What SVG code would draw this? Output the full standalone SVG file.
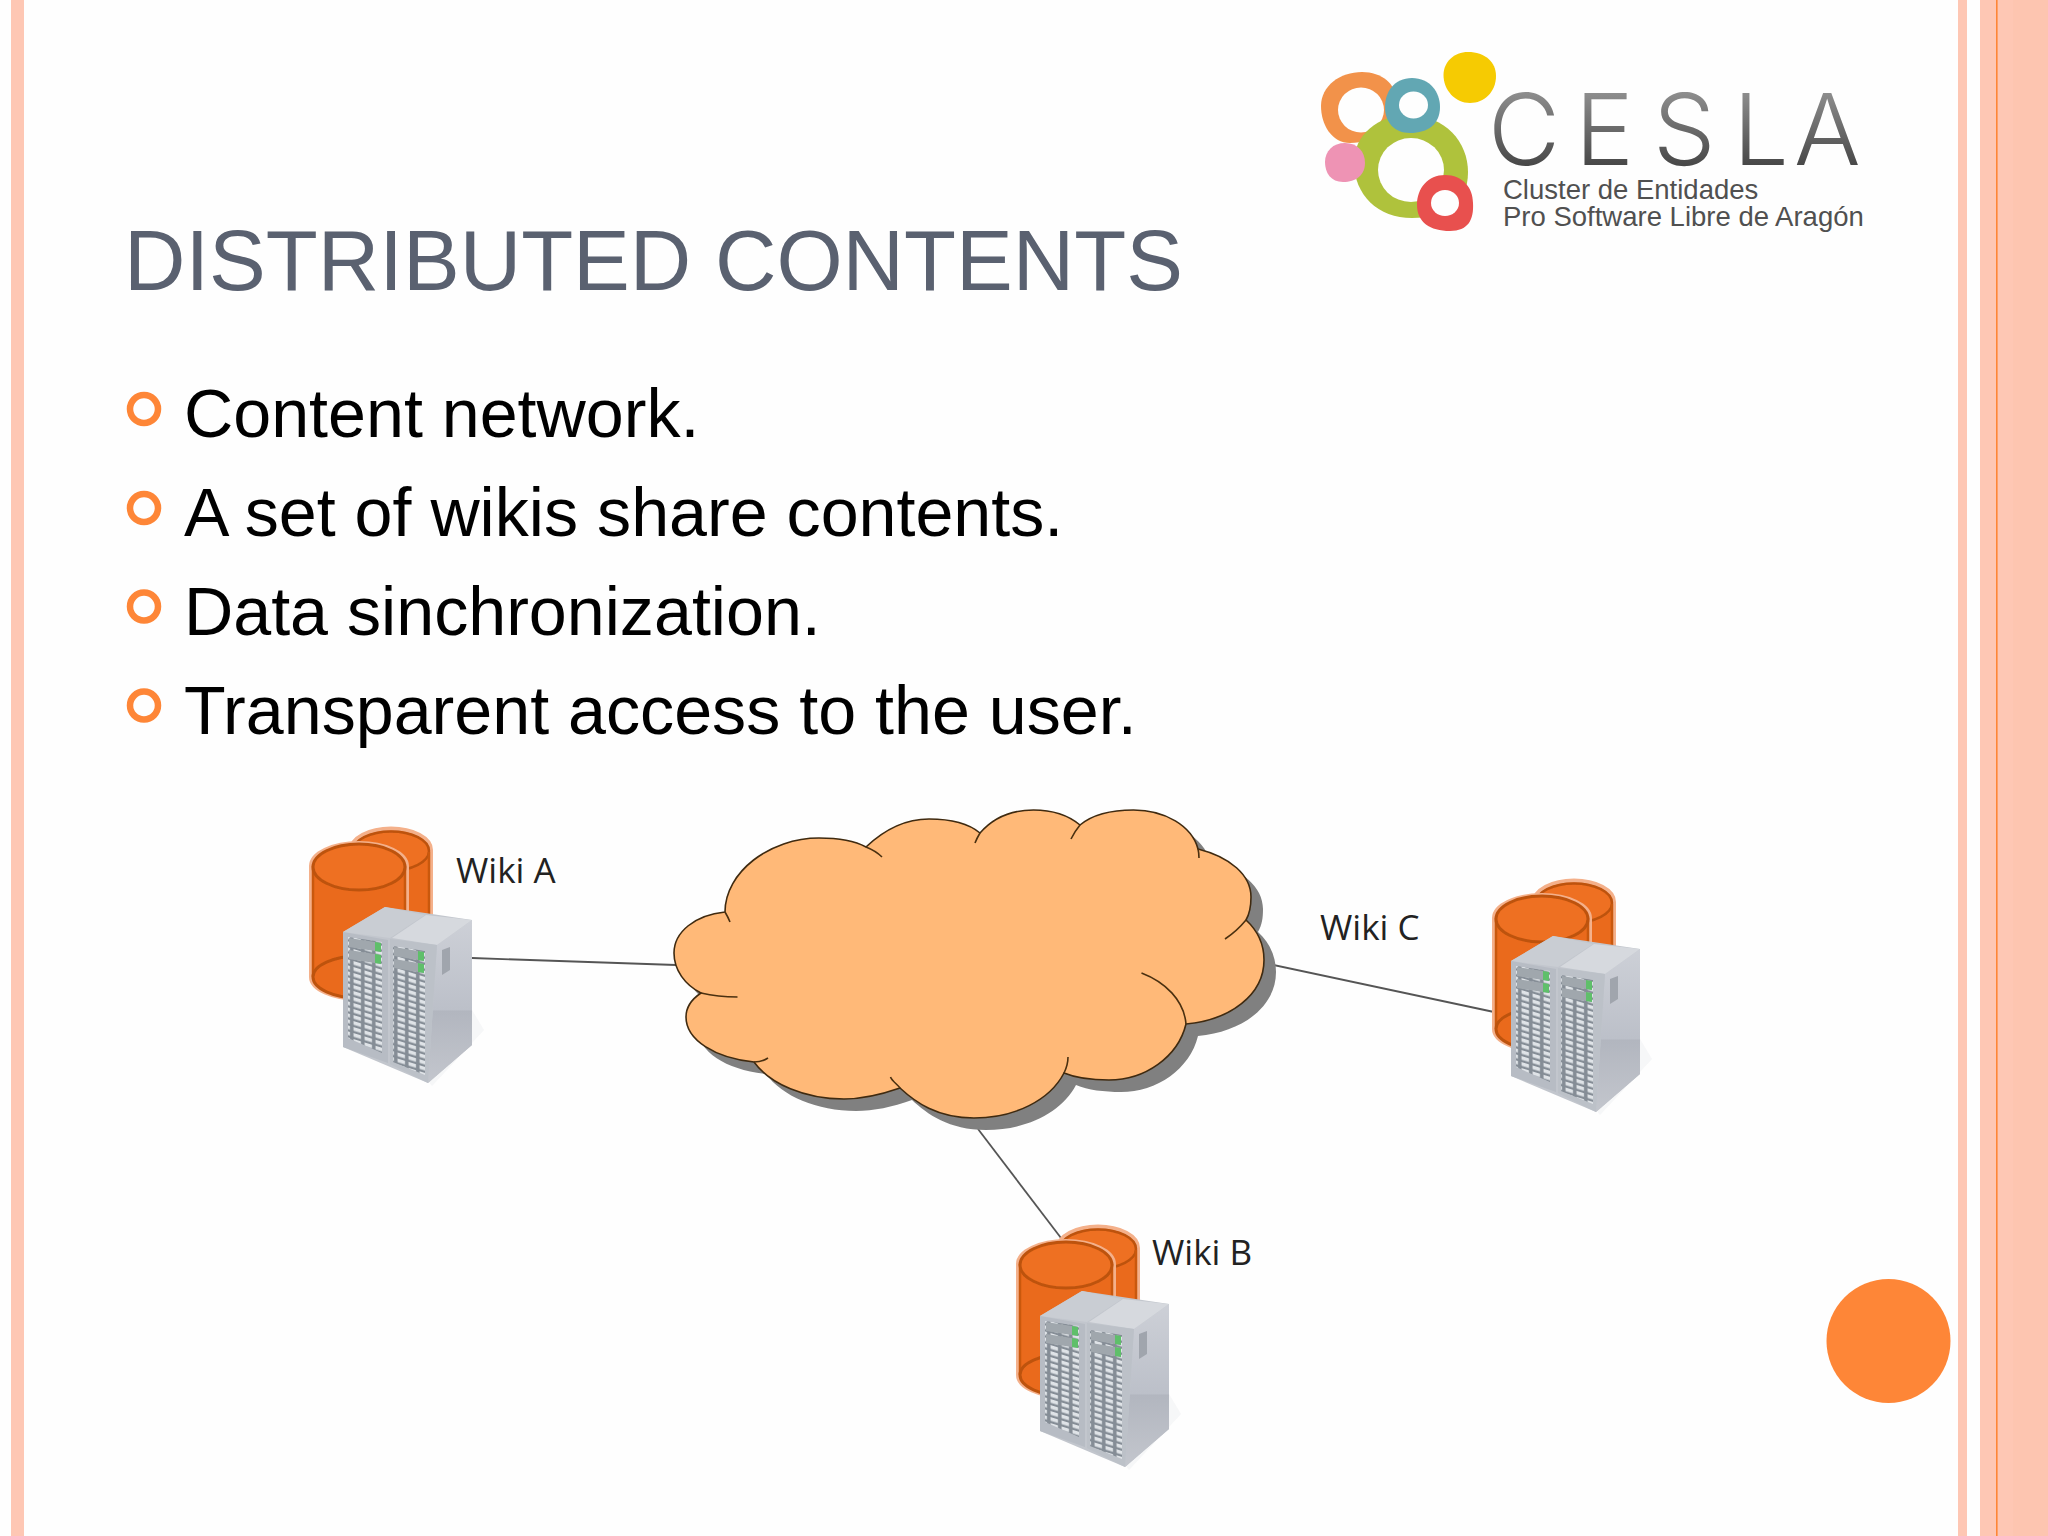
<svg xmlns="http://www.w3.org/2000/svg" width="2048" height="1536" viewBox="0 0 2048 1536">
<style>
.band{fill:#fec7b4}
.title{font:85.1px "Liberation Sans",Arial,sans-serif;fill:#5a6170}
.body{font:68.2px "Liberation Sans",Arial,sans-serif;fill:#000}
.bullet{fill:none;stroke:#fe8637;stroke-width:6.5}
.wiki{font:35px "Open Sans",sans-serif;fill:#222}
.conn{fill:none;stroke:#555;stroke-width:1.8}
.tail{fill:none;stroke:#4a3010;stroke-width:1.6}
.small{font:27.5px "Liberation Sans",Arial,sans-serif;fill:#505050}
</style>
<defs>
<linearGradient id="logoGrad" gradientUnits="userSpaceOnUse" x1="0" y1="92" x2="0" y2="166"><stop offset="0" stop-color="#8e8e8e"/><stop offset="1" stop-color="#474747"/></linearGradient>
<linearGradient id="sideGrad" x1="0" y1="0" x2="0" y2="1"><stop offset="0" stop-color="#cdd0d7"/><stop offset=".55" stop-color="#bcc0c9"/><stop offset=".56" stop-color="#b2b6bf"/><stop offset="1" stop-color="#c3c6cd"/></linearGradient>
<filter id="soft" x="-5%" y="-5%" width="110%" height="110%"><feGaussianBlur stdDeviation="0.6"/></filter>
<pattern id="drives" width="11" height="6" patternUnits="userSpaceOnUse" patternTransform="skewY(17)"><rect width="11" height="6" fill="#858d96"/><rect x="1.5" y="1" width="7.5" height="3.6" fill="#dfe3e7"/></pattern>
<g id="cyl" filter="url(#soft)">
<path d="M351,850 A40,21.5 0 0 1 431,850 V960 H351Z" fill="#ea6a1c" stroke="#f4b08a" stroke-width="4"/>
<ellipse cx="391" cy="851" rx="38" ry="19.5" fill="#ee6f20" stroke="#bd530f" stroke-width="2.5"/>
<path d="M429,852 V960" fill="none" stroke="#c9590f" stroke-width="2.5"/>
<path d="M311,866 A48,23 0 0 1 407,866 V977 A48,22 0 0 1 311,977Z" fill="#ea6a1c" stroke="#f4b08a" stroke-width="4"/>
<path d="M313,977 V866 M405,866 V977" fill="none" stroke="#c9590f" stroke-width="2.5"/>
<ellipse cx="359" cy="867" rx="46" ry="23" fill="#ee6f20" stroke="#bd530f" stroke-width="3"/>
<path d="M313,977 A46,21 0 0 1 405,977 A46,21 0 0 1 313,977Z" fill="#ea6a1c" stroke="#bd530f" stroke-width="3"/>
</g>
<g id="srv" filter="url(#soft)">
<polygon points="472,1010 484,1030 432,1086 426,1078" fill="#eceef0" opacity=".45"/>
<polygon points="343,932 385,907 472,920 472,1045 428,1083 343,1047" fill="#c2c6cd"/>
<polygon points="437,945 472,920 472,1045 428,1083" fill="url(#sideGrad)"/>
<polygon points="343,932 385,907 425,915 390,938" fill="#c9cdd3"/>
<polygon points="392,938 426,915 472,920 437,945" fill="#d6d9de"/>
<polygon points="343,932 388,940 388,1063 343,1047" fill="#b7bcc4"/>
<polygon points="390,939 437,945 428,1083 390,1064" fill="#bcc1c8"/>
<polygon points="442,950 450,947 450,970 442,975" fill="#a0a5ad"/>
<polygon points="348,937 382,942 382,1053 348,1038" fill="url(#drives)"/>
<polygon points="393,946 425,951 425,1075 393,1062" fill="url(#drives)"/>
<polygon points="349,938 381,943 381,952 349,947" fill="#a0a7ad"/>
<polygon points="349,950 381,955 381,964 349,959" fill="#a0a7ad"/>
<polygon points="375,942 381,943 381,952 375,951" fill="#5fbf6b"/>
<polygon points="375,954 381,955 381,964 375,963" fill="#5fbf6b"/>
<polygon points="394,947 424,952 424,961 394,956" fill="#a0a7ad"/>
<polygon points="394,959 424,964 424,973 394,968" fill="#a0a7ad"/>
<polygon points="418,951 424,952 424,961 418,960" fill="#5fbf6b"/>
<polygon points="418,963 424,964 424,973 418,972" fill="#5fbf6b"/>
</g>
<path id="cloudShape" d="M725,912 C725,872 770,838 819,838 C840,838 855,841 866,847 C885,829 905,819 929,819 C950,819 968,823 980,833 C993,818 1012,810 1033.5,810 C1052,810 1068,815 1080,825 C1092,815 1112,810 1133.5,810 C1165,810 1192,826 1198,849 C1230,857 1251,875 1251,897 C1251,906 1250,913 1246,920 C1258,931 1264,945 1264,960 C1264,995 1230,1020 1186,1024 C1178,1057 1145,1080 1109,1080 C1092,1080 1076,1078 1064,1073 C1050,1100 1015,1118 974,1118 C937,1118 915,1102 900,1088 C880,1095 862,1099 844,1099 C805,1099 770,1084 754,1062 C715,1058 686,1040 686,1017 C686,1007 692,999 701,993 C685,985 674,970 674,953 C674,932 695,915 725,912Z"/>
</defs>
<rect width="2048" height="1536" fill="#fefefe"/>
<rect class="band" x="11" y="0" width="13" height="1536"/>
<rect class="band" x="1958" y="0" width="9" height="1536"/>
<rect class="band" x="1980" y="0" width="68" height="1536"/>
<rect x="2013" y="0" width="35" height="1536" fill="#fdc5b0"/>
<rect x="1996" y="0" width="1.6" height="1536" fill="#fe8637"/>
<circle id="accent" cx="1888.5" cy="1341" r="62" fill="#fe8637"/>

<g id="logo">
<path d="M1362,72 C1382,72 1396,84 1396,100 C1396,125 1375,143 1350,143 C1332,143 1321,125 1321,106 C1321,86 1340,72 1362,72Z" fill="#f2924a"/>
<ellipse cx="1361" cy="110" rx="23" ry="22.5" fill="#fefefe"/>
<path d="M1408,115 C1445,115 1468,142 1468,172 C1468,205 1445,218 1412,218 C1378,218 1354,195 1354,162 C1354,135 1378,115 1408,115Z" fill="#afc23c"/>
<ellipse cx="1411" cy="170" rx="33" ry="32" fill="#fefefe"/>
<path d="M1412,78 C1430,78 1440,92 1440,107 C1440,124 1428,133 1410,133 C1394,133 1385,122 1385,107 C1385,92 1394,78 1412,78Z" fill="#62a7b3"/>
<ellipse cx="1413.5" cy="105" rx="14.5" ry="13.5" fill="#fefefe"/>
<path d="M1345,143 C1358,143 1365,152 1365,163 C1365,175 1356,182 1343,182 C1331,182 1325,173 1325,162 C1325,151 1333,143 1345,143Z" fill="#ee93b4"/>
<path d="M1445,175 C1463,175 1473,188 1473,203 C1474,220 1468,231 1450,231 C1430,231 1417,222 1417,205 C1417,188 1428,175 1445,175Z" fill="#e8504e"/>
<ellipse cx="1445" cy="203" rx="14" ry="13" fill="#fefefe"/>
<path d="M1468,52 C1485,52 1496,62 1496,76 C1496,92 1484,103 1470,103 C1455,103 1443.5,90 1443.5,75 C1443.5,62 1454,52 1468,52Z" fill="#f6cb02"/>
<text x="1488 1575 1653 1733 1794" y="165" font-family="Inter,'Liberation Sans',sans-serif" font-weight="300" font-size="99" fill="url(#logoGrad)">CESLA</text>
<text class="small" x="1503" y="198.500">Cluster de Entidades</text>
<text class="small" x="1503" y="225.500">Pro Software Libre de Aragón</text>
</g>

<text class="title" x="124" y="289.500">DISTRIBUTED CONTENTS</text>

<g id="bullets">
<circle class="bullet" cx="144" cy="409" r="14"/>
<circle class="bullet" cx="144" cy="508" r="14"/>
<circle class="bullet" cx="144" cy="606.500" r="14"/>
<circle class="bullet" cx="144" cy="705.500" r="14"/>
<text class="body" x="184" y="437">Content network.</text>
<text class="body" x="184" y="536">A set of wikis share contents.</text>
<text class="body" x="184" y="635">Data sinchronization.</text>
<text class="body" x="184" y="734">Transparent access to the user.</text>
</g>

<g id="connectors">
<line class="conn" x1="472" y1="958" x2="676" y2="965"/>
<line class="conn" x1="1264" y1="963" x2="1494" y2="1012"/>
<line class="conn" x1="978" y1="1129" x2="1061" y2="1238"/>
</g>

<g id="cloud">
<use href="#cloudShape" x="12" y="12" fill="#808080"/>
<use href="#cloudShape" fill="#ffb978" stroke="#3f2a10" stroke-width="1.6"/>
<path class="tail" d="M866,847 Q876,851 882,857 M980,833 Q977,838 975,843 M1080,825 Q1075,831 1071,839 M1198,849 Q1199,853 1199,858 M1246,920 Q1237,931 1225,939 M1141.5,973 C1165,982 1184,1000 1186,1024 M1064,1073 Q1068,1065 1068,1057 M900,1088 C898,1085 892,1081 890.5,1077 M754,1062 Q762,1062 768,1058 M701,993 Q718,997 737.5,997 M725,912 Q728,917 730,922"/>
</g>

<g id="wiki-a">
<use href="#cyl"/>
<use href="#srv"/>
<text class="wiki" x="456" y="883">Wiki A</text>
</g>
<g id="wiki-b">
<use href="#cyl" x="707" y="398"/>
<use href="#srv" x="697" y="384"/>
<text class="wiki" x="1152" y="1265">Wiki B</text>
</g>
<g id="wiki-c">
<use href="#cyl" x="1183" y="52"/>
<use href="#srv" x="1168" y="29"/>
<text class="wiki" x="1320" y="940">Wiki C</text>
</g>
</svg>
